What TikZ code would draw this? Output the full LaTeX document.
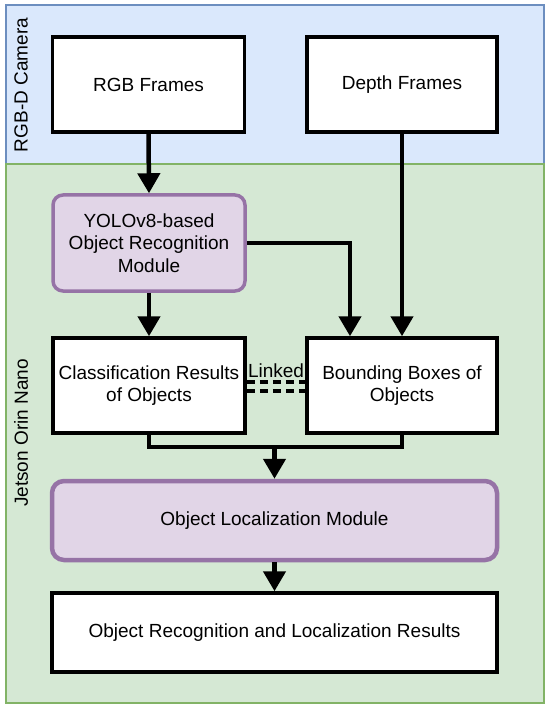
\documentclass[tikz,border=0pt]{standalone}
\usepackage{fontspec}
\setmainfont{Liberation Sans}
\usepackage{tikz}
\usetikzlibrary{arrows.meta}
\usetikzlibrary{positioning}

\definecolor{camfill}{HTML}{DAE8FC}
\definecolor{camline}{HTML}{6C8EBF}
\definecolor{nanofill}{HTML}{D5E8D4}
\definecolor{nanoline}{HTML}{82B366}
\definecolor{modfill}{HTML}{E1D5E7}
\definecolor{modline}{HTML}{9673A6}

\tikzset{
	databox/.style = {draw=black, fill=white, line width=3.5pt, minimum width=192pt, minimum height=95pt, align=center, inner sep=2pt},
	modbox/.style = {draw=modline, fill=modfill, line width=3.5pt, rounded corners=10pt, minimum width=192pt, minimum height=96pt, align=center, inner sep=2pt},
	flow/.style = {line width=4.5pt, -{Triangle[width=22pt,length=20pt]}},
	flowline/.style = {line width=4.5pt},
	linkline/.style = {line width=3.5pt, dash pattern=on 8pt off 5pt},
	lanetext/.style = {rotate=90, anchor=center}
}

\begin{document}
\begin{tikzpicture}[x=1pt, y=-1pt, font=\fontsize{19}{22.5}\selectfont]
				\useasboundingbox (0,0) rectangle (550,708);
				\filldraw[fill=camfill, draw=camline, line width=1.2pt] (6,5) rectangle (544,164);
				\filldraw[fill=nanofill, draw=nanoline, line width=1.2pt] (6,164) rectangle (544,703);
				\node[lanetext] (camlabel) at (21,85) {RGB-D Camera};
				\node[lanetext] (nanolabel) at (21,433) {Jetson Orin Nano};
				\node[databox] (rgb) at (148.5,84.5) {RGB Frames};
				\node[databox, minimum width=190pt] (depth) at (402,84.5) {Depth Frames};
				\node[modbox] (yolo) at (149,243) {YOLOv8-based\\Object Recognition\\Module};
				\node[databox] (cls) at (149,385.5) {Classification Results\\of Objects};
				\node[databox, minimum width=190pt] (bbox) at (402,385.5) {Bounding Boxes of\\Objects};
				\node[modbox, line width=4.5pt, rounded corners=12pt, minimum width=445pt, minimum height=79pt] (loc) at (274.5,520.5) {Object Localization Module};
				\node[databox, minimum width=445pt, minimum height=79pt] (res) at (274.5,632.5) {Object Recognition and Localization Results};
				\coordinate (merge) at (274.5,447);
				\draw[flow] (rgb.south) -- (yolo.north);
				\draw[flow] (depth.south) -- (bbox.north);
				\draw[flow] (yolo.east) -| ([xshift=-52pt]bbox.north);
				\draw[flow] (yolo.south) -- (cls.north);
				\draw[linkline] ([yshift=3.5pt]cls.east) -- node[above, inner sep=3pt] (linklabel) {Linked} ([yshift=3.5pt]bbox.west);
				\draw[linkline] ([yshift=-5.5pt]cls.east) -- ([yshift=-5.5pt]bbox.west);
				\draw[flowline] (cls.south) |- (merge);
				\draw[flowline] (bbox.south) |- (merge);
				\draw[flow] (merge) -- (loc.north);
				\draw[flow] (loc.south) -- (res.north);
			\end{tikzpicture}
\end{document}
